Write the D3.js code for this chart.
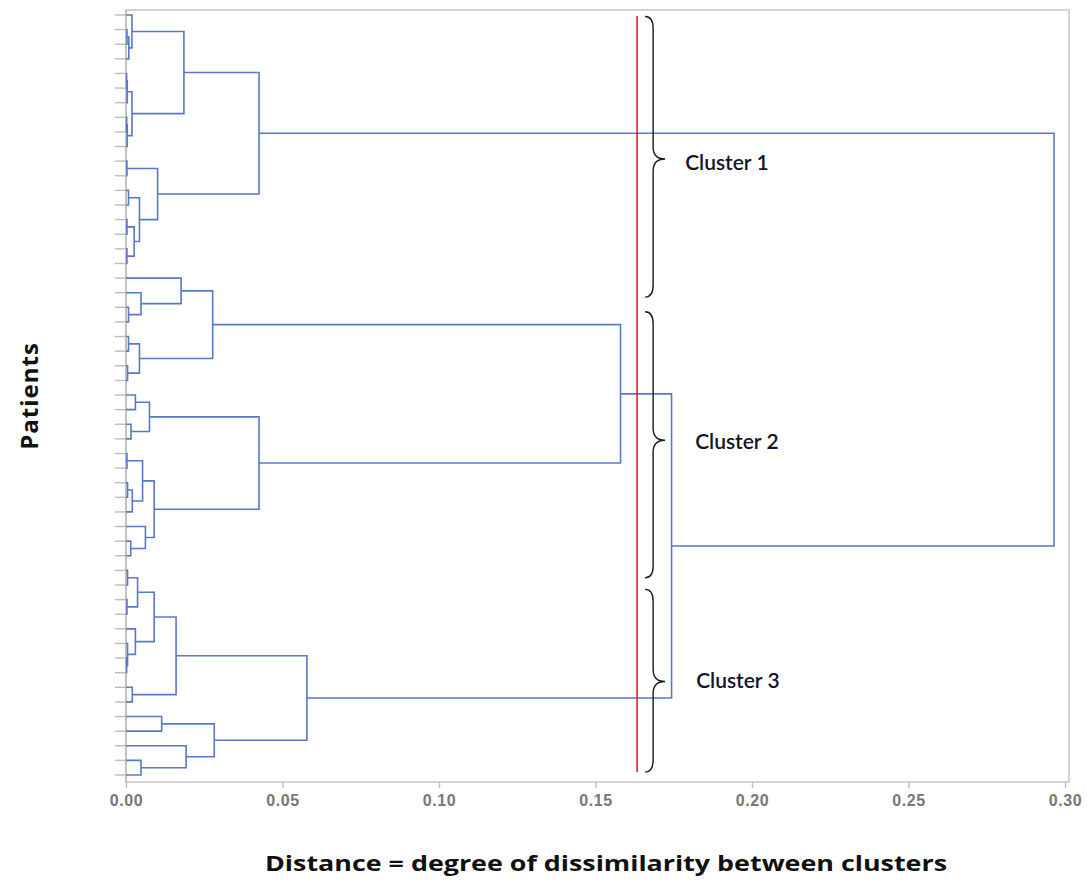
<!DOCTYPE html>
<html>
<head>
<meta charset="utf-8">
<script src="https://cdn.jsdelivr.net/npm/d3@7"></script>
<style>
  html, body { margin: 0; padding: 0; background: #fff; }
  svg { display: block; }
</style>
</head>
<body>
<svg id="chart" width="1087" height="882"></svg>
<script>
// ---------- data ----------
const leafCount = 53;
// merges: [id, left, right, height]; numbers are leaf indices (top to bottom), strings are earlier merges
const merges = [
  ["m1", 1, 2, 0.0003], ["m2", "m1", 3, 0.0009], ["m3", 0, "m2", 0.0019],
  ["m4", 4, 5, 0.0002], ["m5", "m4", 6, 0.0004], ["m6", 7, 8, 0.0002],
  ["m7", "m6", 9, 0.0004], ["m8", "m5", "m7", 0.0019], ["m9", "m3", "m8", 0.0185],
  ["m10", 10, 11, 0.0003], ["m11", 12, 13, 0.0008], ["m12", 14, 15, 0.0003],
  ["m13", 16, 17, 0.0003], ["m14", "m12", "m13", 0.0026], ["m15", "m11", "m14", 0.0043],
  ["m16", "m10", "m15", 0.0101], ["m17", "m9", "m16", 0.0425],
  ["m18", 20, 21, 0.0008], ["m19", 19, "m18", 0.0048], ["m20", 18, "m19", 0.0176],
  ["m21", 22, 23, 0.0008], ["m22", 24, 25, 0.0005], ["m23", "m21", "m22", 0.0043],
  ["m24", "m20", "m23", 0.0277], ["m25", 26, 27, 0.0030], ["m26", 28, 29, 0.0016],
  ["m27", "m25", "m26", 0.0075], ["m28", 30, 31, 0.0003], ["m29", 32, 33, 0.0005],
  ["m30", "m29", 34, 0.0020], ["m31", "m28", "m30", 0.0053], ["m32", 36, 37, 0.0015],
  ["m33", 35, "m32", 0.0062], ["m34", "m31", "m33", 0.0090], ["m35", "m27", "m34", 0.0425],
  ["m36", "m24", "m35", 0.1580],
  ["m37", 38, 39, 0.0005], ["m38", 40, 41, 0.0003], ["m39", "m37", "m38", 0.0037],
  ["m40", 44, 45, 0.0002], ["m41", 43, "m40", 0.0005], ["m42", 42, "m41", 0.0030],
  ["m43", "m39", "m42", 0.0090], ["m44", 46, 47, 0.0020], ["m45", "m43", "m44", 0.0160],
  ["m46", 48, 49, 0.0114], ["m47", 51, 52, 0.0048], ["m48", 50, "m47", 0.0192],
  ["m49", "m46", "m48", 0.0282], ["m50", "m45", "m49", 0.0578],
  ["m51", "m36", "m50", 0.1743], ["m52", "m17", "m51", 0.2965]
];
const xTicks = [0, 0.05, 0.10, 0.15, 0.20, 0.25, 0.30];
const cutHeight = 0.1633;
const clusterLabels = ["Cluster 1", "Cluster 2", "Cluster 3"];
// brace spans in leaf units: [start, end, tip]
const braceStart = [0.1, 20.3, 39.3];
const braceEnd = [19.3, 38.5, 51.8];
const braceTip = [9.85, 29.1, 45.6];
const xTitle = "Distance = degree of dissimilarity between clusters";
const yTitle = "Patients";

// ---------- layout ----------
const svg = d3.select("#chart");
const x = d3.scaleLinear().domain([0, 0.30]).range([126, 1065]);
const y = d3.scaleLinear().domain([0, leafCount - 1]).range([15, 775]);
const frame = { left: 126, top: 10, right: 1069, bottom: 782 };

// frame
svg.append("rect")
  .attr("x", frame.left).attr("y", frame.top)
  .attr("width", frame.right - frame.left).attr("height", frame.bottom - frame.top)
  .attr("fill", "none").attr("stroke", "#d4d4d4").attr("stroke-width", 2);
svg.append("line")
  .attr("x1", frame.left).attr("x2", frame.left)
  .attr("y1", frame.top).attr("y2", frame.bottom)
  .attr("stroke", "#bdbdbd").attr("stroke-width", 1.6);

// leaf ticks
svg.append("g").selectAll("line")
  .data(d3.range(leafCount))
  .join("line")
  .attr("x1", frame.left - 11).attr("x2", frame.left)
  .attr("y1", d => y(d)).attr("y2", d => y(d))
  .attr("stroke", "#bcbcbc").attr("stroke-width", 1.4);

// x axis
const xAxis = svg.append("g")
  .attr("transform", `translate(0,${frame.bottom})`)
  .call(d3.axisBottom(x).tickValues(xTicks).tickFormat(d3.format(".2f")).tickSize(6).tickPadding(7));
xAxis.select(".domain").remove();
xAxis.attr("font-size", 16);
xAxis.selectAll(".tick line").attr("stroke", "#bdbdbd").attr("stroke-width", 1.4);
xAxis.selectAll(".tick text")
  .attr("fill", "#777")
  .attr("font-family", "'Liberation Sans', Arial, sans-serif")
  .attr("font-size", 16)
  .attr("letter-spacing", 0.6)
  .attr("font-weight", "bold");

// dendrogram
const nodes = {};
d3.range(leafCount).forEach(i => { nodes[i] = { pos: i, h: 0 }; });
const links = merges.map(([id, a, b, h]) => {
  const l = nodes[a], r = nodes[b];
  nodes[id] = { pos: (l.pos + r.pos) / 2, h: h };
  return { l, r, h };
});
svg.append("g").selectAll("path")
  .data(links)
  .join("path")
  .attr("d", d => `M${x(d.l.h)},${y(d.l.pos)}H${x(d.h)}V${y(d.r.pos)}H${x(d.r.h)}`)
  .attr("fill", "none")
  .attr("stroke", "#5879c6")
  .attr("stroke-width", 1.6);

// cut line
const cx = x(cutHeight);
svg.append("line")
  .attr("x1", cx).attr("x2", cx)
  .attr("y1", 16).attr("y2", 772)
  .attr("stroke", "#ee1c25").attr("stroke-width", 1.6);

// braces + labels
const braceData = clusterLabels.map((label, i) => ({
  label, y0: y(braceStart[i]), y1: y(braceEnd[i]), ym: y(braceTip[i]), i
}));
const xa = cx + 8, xb = cx + 16, xc = cx + 28, r = 12;
svg.append("g").selectAll("path")
  .data(braceData)
  .join("path")
  .attr("d", d => `M${xa},${d.y0} Q${xb},${d.y0} ${xb},${d.y0 + r} L${xb},${d.ym - r} Q${xb},${d.ym} ${xc},${d.ym} Q${xb},${d.ym} ${xb},${d.ym + r} L${xb},${d.y1 - r} Q${xb},${d.y1} ${xa},${d.y1}`)
  .attr("fill", "none")
  .attr("stroke", "#1a1a1a")
  .attr("stroke-width", 1.4);
const labelOffset = [48, 58, 59];
const labelDy = [3, 0, -2];
svg.append("g").selectAll("text")
  .data(braceData)
  .join("text")
  .attr("x", d => cx + labelOffset[d.i])
  .attr("y", d => d.ym + labelDy[d.i])
  .attr("dominant-baseline", "central")
  .attr("font-family", "Lato, 'Open Sans', sans-serif")
  .attr("font-size", 21)
  .attr("font-weight", 600)
  .attr("fill", "#14142a")
  .text(d => d.label);

// axis titles
svg.append("text")
  .attr("x", 606).attr("y", 871)
  .attr("text-anchor", "middle")
  .attr("font-family", "'Open Sans', Lato, sans-serif")
  .attr("font-size", 22)
  .attr("font-weight", "bold")
  .attr("fill", "#111")
  .attr("textLength", 682)
  .attr("lengthAdjust", "spacingAndGlyphs")
  .text(xTitle);
svg.append("text")
  .attr("transform", "translate(38,396) rotate(-90)")
  .attr("text-anchor", "middle")
  .attr("font-family", "'Open Sans', Lato, sans-serif")
  .attr("font-size", 24)
  .attr("font-weight", "bold")
  .attr("letter-spacing", 1)
  .attr("fill", "#111")
  .text(yTitle);
</script>
</body>
</html>
